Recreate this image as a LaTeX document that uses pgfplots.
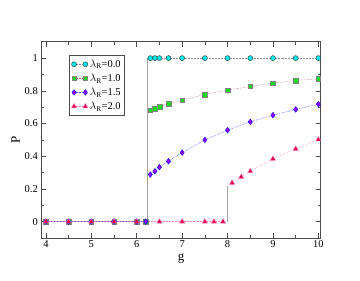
\documentclass[border=0pt]{standalone}
\usepackage{fontspec}
\setmainfont{Liberation Serif}
\usepackage{pgfplots}
\pgfplotsset{compat=1.18}
\definecolor{cyanf}{RGB}{0,230,230}
\definecolor{greenf}{RGB}{20,220,20}
\definecolor{purpf}{RGB}{150,0,255}
\definecolor{redf}{RGB}{220,0,60}
\begin{document}
\begin{tikzpicture}
\begin{axis}[
  scale only axis, width=279bp, height=196bp,
  xmin=3.9, xmax=10.05, ymin=-0.1, ymax=1.1,
  xtick={4,5,6,7,8,9,10}, minor xtick={4.5,5.5,6.5,7.5,8.5,9.5},
  ytick={0,0.2,0.4,0.6,0.8,1}, minor ytick={0.1,0.3,0.5,0.7,0.9},
  yticklabels={0,0.2,0.4,0.6,0.8,1},
  tick align=inside, major tick length=5bp, minor tick length=3bp,
  every tick/.style={black!70, line width=0.5pt},
  axis line style={black!70, line width=0.6pt},
  /pgf/number format/assume math mode=true,
  tick label style={font=\fontsize{10.5}{11}\selectfont},
  xticklabel style={yshift=1bp},
  xlabel={g}, ylabel={P},
  label style={font=\fontsize{13}{14}\selectfont},
  xlabel style={yshift=1bp}, ylabel style={yshift=-2bp},
  legend style={at={(0.1,0.93)}, anchor=north west, draw=black!70, line width=0.5pt,
    font=\fontsize{10.5}{11}\selectfont, inner sep=2pt, row sep=1pt},
  legend cell align=left,
  legend image code/.code={\draw[#1] plot coordinates {(0cm,0cm) (0.4cm,0cm)};},
]
% gray step lines
\addplot[black!35, line width=0.9pt, forget plot] coordinates {(6.235,0) (6.235,1)};
\addplot[black!35, line width=0.9pt, forget plot] coordinates {(8,0) (8,0.215)};
% lower branch (zeros)
\addplot[blue!70, line width=0.5pt, forget plot, mark=*, mark size=2.5bp, mark options={solid, fill=cyanf, draw=black!80, line width=0.4pt}] coordinates {(4,0)(4.5,0)(5,0)(5.5,0)(6,0)(6.2,0)};
\addplot[blue!70, line width=0.5pt, forget plot, mark=square*, mark size=2.3bp, mark options={solid, fill=greenf, draw=black!50, line width=0.4pt}] coordinates {(4,0)(4.5,0)(5,0)(5.5,0)(6,0)(6.2,0)};
\addplot[blue!70, line width=0.5pt, forget plot, mark=diamond*, mark size=2.8bp, mark options={solid, fill=purpf, draw=blue, line width=0.4pt}] coordinates {(4,0)(4.5,0)(5,0)(5.5,0)(6,0)(6.2,0)};
% upper branches
\addplot[black!45, densely dotted, line width=0.5pt, mark=*, mark size=2.5bp, mark options={solid, fill=cyanf, draw=black!80, line width=0.4pt}] coordinates {(6.3,1)(6.4,1)(6.5,1)(6.7,1)(7,1)(7.5,1)(8,1)(8.5,1)(9,1)(9.5,1)(10,1)};
\addlegendentry{$\lambda_{\mathrm{R}}$=0.0}
\addplot[red!50!black!60, densely dotted, line width=0.5pt, mark=square*, mark size=2.3bp, mark options={solid, fill=greenf, draw=black!50, line width=0.4pt}] coordinates {(6.3,0.682)(6.4,0.69)(6.5,0.702)(6.7,0.722)(7,0.743)(7.5,0.778)(8,0.804)(8.5,0.827)(9,0.847)(9.5,0.863)(10,0.873)};
\addlegendentry{$\lambda_{\mathrm{R}}$=1.0}
\addplot[blue!80, densely dotted, line width=0.5pt, mark=diamond*, mark size=2.8bp, mark options={solid, fill=purpf, draw=blue, line width=0.4pt}] coordinates {(6.3,0.288)(6.4,0.308)(6.5,0.333)(6.7,0.369)(7,0.422)(7.5,0.5)(8,0.559)(8.5,0.61)(9,0.651)(9.5,0.686)(10,0.718)};
\addlegendentry{$\lambda_{\mathrm{R}}$=1.5}
\addplot[magenta!50, densely dotted, line width=0.5pt, mark=triangle*, mark size=2.9bp, mark options={solid, fill=redf, draw=magenta!60, line width=0.4pt}] coordinates {(4,0)(4.5,0)(5,0)(5.5,0)(6,0)(6.5,0)(7,0)(7.5,0)(7.7,0)(7.9,0)};
\addlegendentry{$\lambda_{\mathrm{R}}$=2.0}
\addplot[magenta!50, densely dotted, line width=0.5pt, forget plot, mark=triangle*, mark size=2.9bp, mark options={solid, fill=redf, draw=magenta!60, line width=0.4pt}] coordinates {(8.1,0.237)(8.3,0.273)(8.5,0.308)(9,0.384)(9.5,0.445)(10,0.502)};
\end{axis}
\path ([xshift=-41.3bp,yshift=-42.3bp]current axis.south west) rectangle ([xshift=39.3bp,yshift=41.7bp]current axis.north east);
\end{tikzpicture}
\end{document}
